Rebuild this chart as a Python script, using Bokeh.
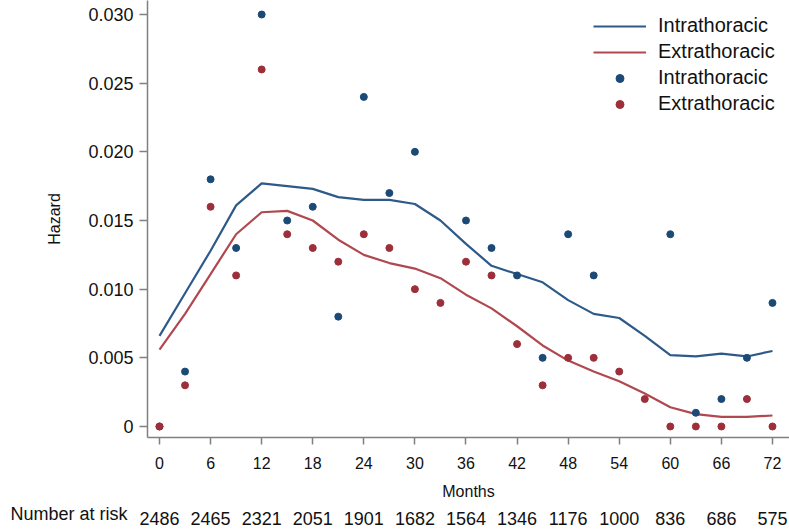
from bokeh.plotting import figure
from bokeh.layouts import column
from bokeh.models import (Range1d, FixedTicker, Legend, LegendItem)
from bokeh.embed import file_html
from bokeh.resources import INLINE

# ---- data -------------------------------------------------------------
months = [0, 3, 6, 9, 12, 15, 18, 21, 24, 27, 30, 33, 36, 39, 42, 45, 48,
          51, 54, 57, 60, 63, 66, 69, 72]
nan = float("nan")
intra_points = [0.0, 0.004, 0.018, 0.013, 0.030, 0.015, 0.016, 0.008, 0.024,
                0.017, 0.020, nan, 0.015, 0.013, 0.011, 0.005, 0.014, 0.011,
                nan, nan, 0.014, 0.001, 0.002, 0.005, 0.009]
extra_points = [0.0, 0.003, 0.016, 0.011, 0.026, 0.014, 0.013, 0.012, 0.014,
                0.013, 0.010, 0.009, 0.012, 0.011, 0.006, 0.003, 0.005, 0.005,
                0.004, 0.002, 0.0, 0.0, 0.0, 0.002, 0.0]
intra_smooth = [0.0066, 0.0097, 0.0128, 0.0161, 0.0177, 0.0175, 0.0173, 0.0167,
                0.0165, 0.0165, 0.0162, 0.0150, 0.0133, 0.0117, 0.0111, 0.0105,
                0.0092, 0.0082, 0.0079, 0.0066, 0.0052, 0.0051, 0.0053, 0.0051,
                0.0055]
extra_smooth = [0.0056, 0.0082, 0.0111, 0.0140, 0.0156, 0.0157, 0.0150, 0.0136,
                0.0125, 0.0119, 0.0115, 0.0108, 0.0096, 0.0086, 0.0073, 0.0059,
                0.0048, 0.0040, 0.0033, 0.0024, 0.0014, 0.0009, 0.0007, 0.0007,
                0.0008]
x_ticks = [0, 6, 12, 18, 24, 30, 36, 42, 48, 54, 60, 66, 72]
at_risk = [2486, 2465, 2321, 2051, 1901, 1682, 1564, 1346, 1176, 1000, 836,
           686, 575]
at_risk_title = "Number at risk"
y_ticks = [0.0, 0.005, 0.010, 0.015, 0.020, 0.025, 0.030]
y_tick_labels = ["0", "0.005", "0.010", "0.015", "0.020", "0.025", "0.030"]

# ---- style ------------------------------------------------------------
FONT = "Liberation Sans"
BLUE_PT = "#1c4a77"
RED_PT = "#9c2f3a"
BLUE_LN = "#2d5a88"
RED_LN = "#b04850"
AXIS_C = "#808080"
TXT = "#111111"

X_RANGE = (-1.41, 74.0)
LEFT = 147

p = figure(frame_width=642, frame_height=437,
           min_border_left=LEFT, min_border_right=0, min_border_top=0,
           min_border_bottom=68,
           x_range=Range1d(*X_RANGE), y_range=Range1d(-0.000801, 0.03102),
           output_backend="svg", toolbar_location=None)
p.outline_line_color = None
p.xgrid.visible = False
p.ygrid.visible = False

# x axis
p.xaxis.ticker = FixedTicker(ticks=x_ticks)
p.xaxis.axis_label = "Months"
p.xaxis.axis_label_text_font = FONT
p.xaxis.axis_label_text_font_size = "16px"
p.xaxis.axis_label_text_font_style = "normal"
p.xaxis.axis_label_standoff = 11
p.xaxis.major_label_text_font = FONT
p.xaxis.major_label_text_font_size = "16px"
p.xaxis.major_label_standoff = 12
p.xaxis.major_tick_in = 0
p.xaxis.major_tick_out = 7
p.xaxis.minor_tick_line_color = None

# y axis
p.yaxis.ticker = FixedTicker(ticks=y_ticks)
p.yaxis.major_label_overrides = {t: s for t, s in zip(y_ticks, y_tick_labels)}
p.yaxis.axis_label = "Hazard"
p.yaxis.axis_label_text_font = FONT
p.yaxis.axis_label_text_font_size = "16px"
p.yaxis.axis_label_text_font_style = "normal"
p.yaxis.axis_label_standoff = 22
p.yaxis.major_label_text_font = FONT
p.yaxis.major_label_text_font_size = "18px"
p.yaxis.major_label_standoff = 6
p.yaxis.major_tick_in = 0
p.yaxis.major_tick_out = 8
p.yaxis.minor_tick_line_color = None

for ax in (p.xaxis, p.yaxis):
    ax.axis_line_color = AXIS_C
    ax.axis_line_width = 1.5
    ax.major_tick_line_color = AXIS_C
    ax.major_tick_line_width = 1.5
    ax.major_label_text_color = TXT
    ax.axis_label_text_color = TXT

# ---- glyphs -----------------------------------------------------------
l_in = p.line(months, intra_smooth, line_color=BLUE_LN, line_width=2.2)
l_ex = p.line(months, extra_smooth, line_color=RED_LN, line_width=2.2)
s_in = p.scatter(months, intra_points, size=7, fill_color=BLUE_PT,
                 line_color=BLUE_PT)
s_ex = p.scatter(months, extra_points, size=7, fill_color=RED_PT,
                 line_color=RED_PT)

legend = Legend(items=[
    LegendItem(label="Intrathoracic", renderers=[l_in]),
    LegendItem(label="Extrathoracic", renderers=[l_ex]),
    LegendItem(label="Intrathoracic", renderers=[s_in]),
    LegendItem(label="Extrathoracic", renderers=[s_ex]),
], location=(446, 322))
legend.border_line_color = None
legend.background_fill_alpha = 0
legend.label_text_font = FONT
legend.label_text_font_size = "20px"
legend.label_text_color = TXT
legend.glyph_width = 53
legend.glyph_height = 20
legend.label_height = 20
legend.label_standoff = 12
legend.spacing = 3
legend.padding = 0
legend.margin = 0
p.add_layout(legend)

# ---- number at risk row: a thin strip whose axes carry the texts --------
p2 = figure(frame_width=642, frame_height=16,
            min_border_left=LEFT, min_border_right=0, min_border_top=0,
            min_border_bottom=0,
            x_range=Range1d(*X_RANGE), y_range=Range1d(-0.01, 1),
            output_backend="svg", toolbar_location=None)
p2.outline_line_color = None
p2.xgrid.visible = False
p2.ygrid.visible = False

p2.xaxis.ticker = FixedTicker(ticks=x_ticks)
p2.xaxis.major_label_overrides = {m: str(n) for m, n in zip(x_ticks, at_risk)}
p2.xaxis.major_label_standoff = -10

p2.yaxis.ticker = FixedTicker(ticks=[0])
p2.yaxis.major_label_overrides = {0: at_risk_title}
p2.yaxis.major_label_standoff = 20

for ax in (p2.xaxis, p2.yaxis):
    ax.axis_line_color = None
    ax.major_tick_line_color = None
    ax.minor_tick_line_color = None
    ax.major_tick_in = 0
    ax.major_tick_out = 0
    ax.major_label_text_font = FONT
    ax.major_label_text_font_size = "18px"
    ax.major_label_text_color = TXT

layout = column(p, p2, spacing=0)
open("out.html", "w").write(file_html(layout, INLINE))
